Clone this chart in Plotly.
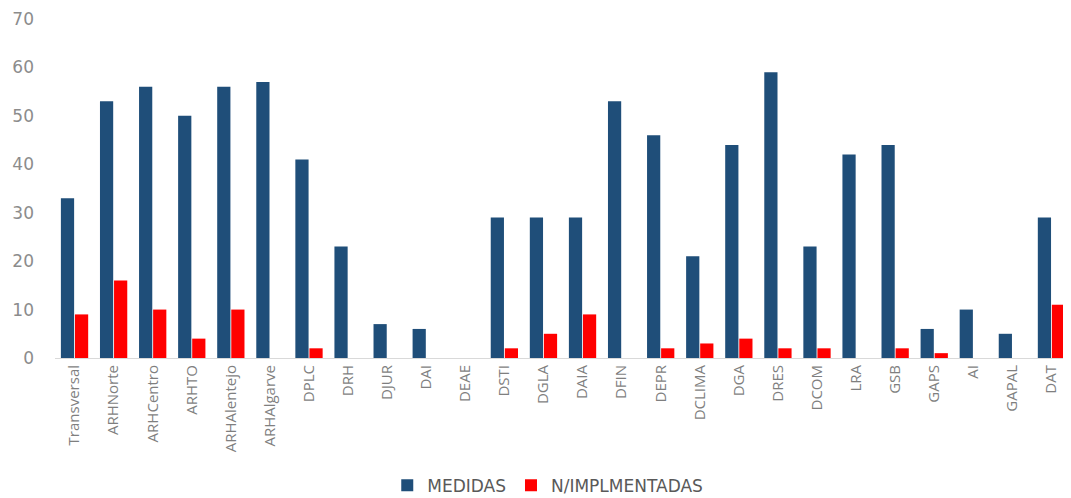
import plotly.graph_objects as go

categories = ["Transversal", "ARHNorte", "ARHCentro", "ARHTO", "ARHAlentejo", "ARHAlgarve",
              "DPLC", "DRH", "DJUR", "DAI", "DEAE", "DSTI", "DGLA", "DAIA", "DFIN", "DEPR",
              "DCLIMA", "DGA", "DRES", "DCOM", "LRA", "GSB", "GAPS", "AI", "GAPAL", "DAT"]
medidas = [33, 53, 56, 50, 56, 57, 41, 23, 7, 6, 0, 29, 29, 29, 53, 46, 21, 44, 59, 23, 42, 44, 6, 10, 5, 29]
n_impl = [9, 16, 10, 4, 10, 0, 2, 0, 0, 0, 0, 2, 5, 9, 0, 2, 3, 4, 2, 2, 0, 2, 1, 0, 0, 11]
y_ticks = [0, 10, 20, 30, 40, 50, 60, 70]

fig = go.Figure()
fig.add_trace(go.Bar(x=categories, y=medidas, name="MEDIDAS",
                     marker=dict(color="#1F4E79", line=dict(width=0))))
fig.add_trace(go.Bar(x=categories, y=n_impl, name="N/IMPLMENTADAS",
                     marker=dict(color="#FF0000", line=dict(width=0))))

fig.update_layout(
    width=1063, height=490,
    margin=dict(l=47, r=0, t=11, b=140),
    paper_bgcolor="white", plot_bgcolor="white",
    barmode="group", bargap=0.28, bargroupgap=0.06,
    font=dict(family="Open Sans", color="#7F7F7F", size=15),
    legend=dict(orientation="h", x=0.485, xanchor="center", yref="container", y=0.025, yanchor="middle",
                font=dict(family="DejaVu Sans", size=17, color="#595959"), itemwidth=30,
                traceorder="normal"),
    xaxis=dict(tickangle=-90, showline=True, linecolor="#D9D9D9", linewidth=1, automargin=False,
               ticks="", tickfont=dict(size=15, color="#7F7F7F"), showgrid=False),
    yaxis=dict(range=[0, 70], tickvals=y_ticks, showgrid=False, zeroline=False, automargin=False,
               ticks="", tickfont=dict(family="DejaVu Sans", size=17, color="#8C8C8C"),
               ticklabelstandoff=20),
)

fig.write_html("out.html")
